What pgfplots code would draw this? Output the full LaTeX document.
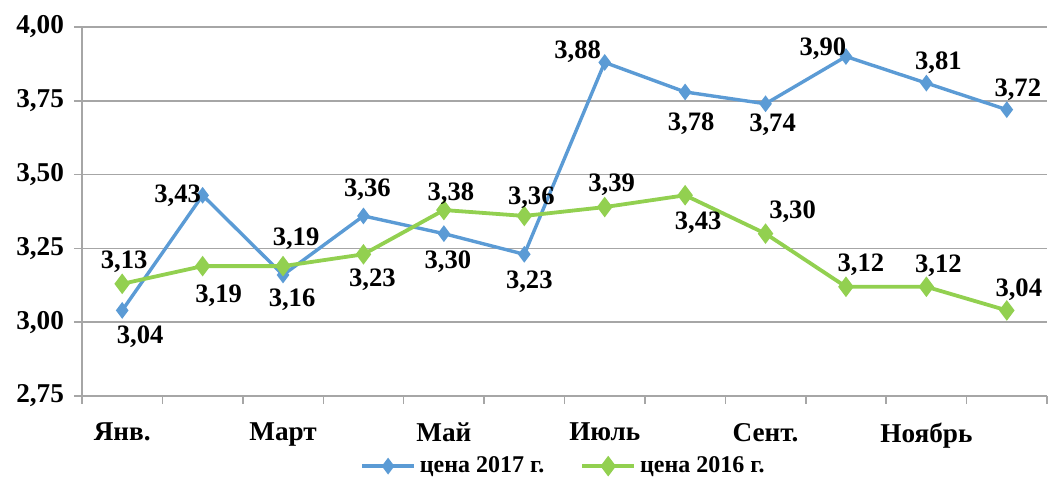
\documentclass[border=0pt]{standalone}
\usepackage{fontspec}
\setmainfont{Liberation Serif}
\usepackage{pgfplots}
\pgfplotsset{compat=1.18}
\usepackage{pgfplotstable}
\definecolor{blueA}{HTML}{5B9BD5}
\definecolor{greenB}{HTML}{92D050}
\definecolor{gridgray}{HTML}{A6A6A6}

% x, value, label shift (pt)
\pgfplotstableread{
x y lx ly
0 3.04 9 -13
1 3.43 -12.5 0
2 3.16 4.5 -12.5
3 3.36 2 13
4 3.30 2 -14
5 3.23 2.5 -13.5
6 3.88 -13.5 5.5
7 3.78 3 -16
8 3.74 3.5 -10.5
9 3.90 -11.5 4
10 3.81 6 10
11 3.72 5.5 10
}\priceA

\pgfplotstableread{
x y lx ly
0 3.13 1 11
1 3.19 8 -15
2 3.19 6.5 13.5
3 3.23 4.5 -12.5
4 3.38 3.5 8
5 3.36 3.5 9
6 3.39 3.5 11
7 3.43 6.5 -13.5
8 3.30 13.5 11
9 3.12 7.5 11
10 3.12 6 10.5
11 3.04 6 10.5
}\priceB

\begin{document}
\begin{tikzpicture}
\useasboundingbox (-41pt,-41.5pt) rectangle (483.5pt,198pt);
\begin{axis}[
  at={(0,0)}, anchor=south west,
  scale only axis, width=482.5pt, height=184.5pt,
  xmin=-0.5, xmax=11.5, ymin=2.75, ymax=4.0,
  ytick={2.75,3,3.25,3.5,3.75,4},
  xtick={-0.5,0.5,...,11.5}, xticklabels={},
  extra x ticks={0,2,4,6,8,10},
  extra x tick labels={Янв.,Март,Май,Июль,Сент.,Ноябрь},
  extra x tick style={tick style={draw=none}},
  axis x line*=bottom, axis y line*=left,
  axis line style={gridgray, line width=0.75pt, -},
  tick style={gridgray, line width=0.75pt},
  tick align=outside, major tick length=4pt,
  ymajorgrids, grid style={gridgray, line width=0.75pt},
  /pgf/number format/assume math mode=true,
  yticklabel={\pgfmathprintnumber[fixed,fixed zerofill,precision=2,use comma]{\tick}},
  tick label style={font=\fontsize{13.6}{15}\selectfont\bfseries, text=black},
  yticklabel style={xshift=-1.5pt},
  xticklabel style={yshift=-6pt},
  clip=false,
  nodes near coords={\pgfmathprintnumber[fixed,fixed zerofill,precision=2,use comma,assume math mode=true]{\pgfplotspointmeta}},
  point meta=explicit,
  visualization depends on={\thisrow{lx}\as\lx},
  visualization depends on={\thisrow{ly}\as\ly},
  every node near coord/.append style={anchor=center, xshift=\lx*1pt, yshift=\ly*1pt,
    font=\fontsize{13.3}{15}\selectfont\bfseries, text=black},
  legend style={at={(0.5,-0.19)}, anchor=center, draw=none, fill=none,
    legend columns=2, font=\fontsize{12}{14}\selectfont\bfseries,
    /tikz/every even column/.append style={column sep=16pt}},
  legend image code/.code={\draw[mark repeat=2,mark phase=2] plot coordinates {(0pt,0pt)(13pt,0pt)(26pt,0pt)};},
]
\addplot[blueA, line width=1.7pt, mark=diamond*, mark size=2.8pt, mark options={solid}]
  table[x=x, y=y, meta=y] {\priceA};
\addlegendentry{цена 2017 г.}
\addplot[greenB, line width=1.9pt, mark=diamond*, mark size=3.6pt, mark options={solid}]
  table[x=x, y=y, meta=y] {\priceB};
\addlegendentry{цена 2016 г.}
\end{axis}
\end{tikzpicture}
\end{document}
